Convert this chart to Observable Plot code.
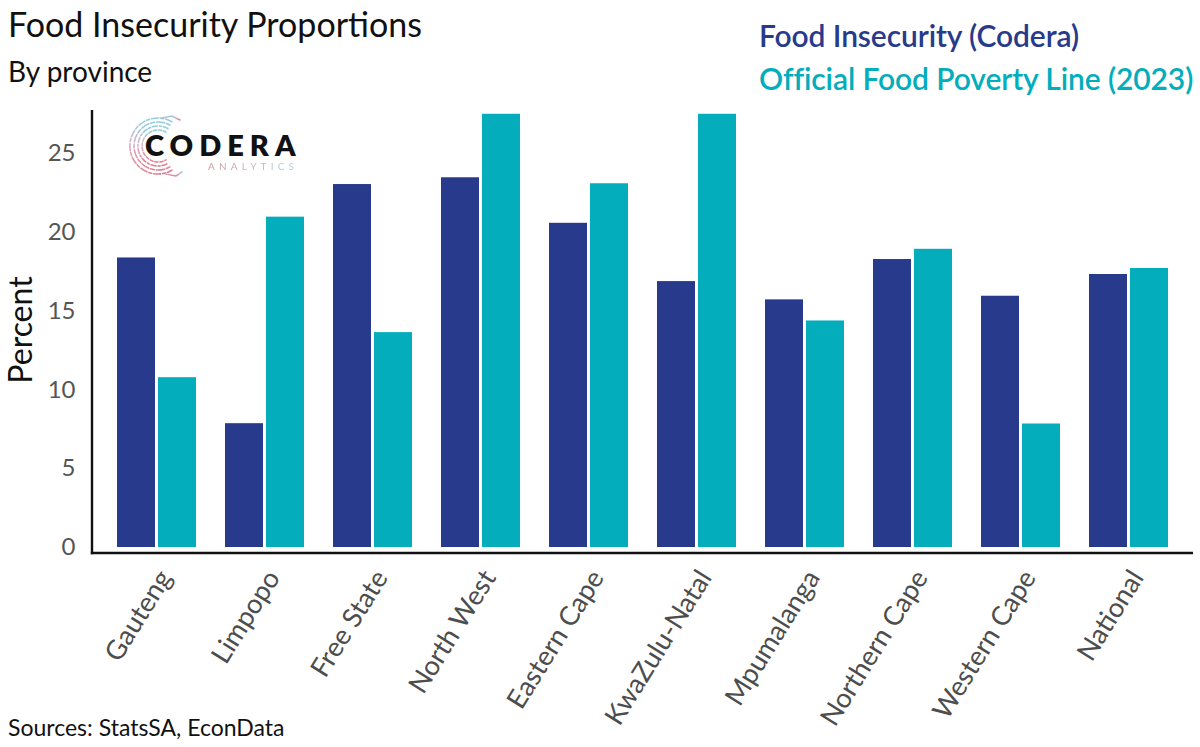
<!DOCTYPE html>
<html><head><meta charset="utf-8">
<script src="https://cdn.jsdelivr.net/npm/d3@7"></script>
<script src="https://cdn.jsdelivr.net/npm/@observablehq/plot@0.6"></script>
<style>
body{margin:0;background:#fff;font-family:Lato,sans-serif;}
#wrap{position:relative;width:1200px;height:747px;overflow:hidden;background:#fff;}
#chart{position:absolute;left:0;top:0;}
.t{position:absolute;white-space:nowrap;line-height:1.2;}
#title{left:8px;top:4px;font-size:34px;color:#111;}
#subtitle{left:8px;top:55px;font-size:28px;color:#111;}
#caption{left:8px;top:714px;font-size:23px;color:#111;}
#ylabel{left:20px;top:330px;font-size:32px;color:#111;transform:translate(-50%,-50%) rotate(-90deg);}
.leg{left:759px;font-size:30px;font-weight:600;letter-spacing:-0.1px;}
#leg1{top:17px;color:#283a8c;}
#leg2{top:60px;color:#03adbc;}
#logo{position:absolute;left:126px;top:114px;width:64px;height:64px;}
#codera{position:absolute;left:145px;top:128px;font-size:29px;font-weight:800;letter-spacing:6px;color:#111;line-height:1.2;}
#analytics{position:absolute;left:208px;top:160px;font-size:10px;letter-spacing:4.2px;line-height:1.2;background:linear-gradient(90deg,#d98f9c,#a9d6e2);-webkit-background-clip:text;background-clip:text;color:transparent;}
</style></head><body>
<div id="wrap">
<div id="chart"></div>
<svg id="logo" viewBox="0 0 64 64">
  <defs>
    <linearGradient id="lg" x1="0" y1="0" x2="0" y2="1">
      <stop offset="0" stop-color="#8fd0e0"/>
      <stop offset="0.45" stop-color="#d9b3c6"/>
      <stop offset="1" stop-color="#e07f92"/>
    </linearGradient>
  </defs>
  <g fill="none" stroke="url(#lg)" stroke-width="1.6" stroke-linecap="round">
    <path d="M 46 7.8 A 28 28 0 1 0 46 56.2" stroke-dasharray="7 2 3 2"/>
    <path d="M 44 11.2 A 24 24 0 1 0 44 52.8" stroke-dasharray="4 2 8 2"/>
    <path d="M 42 14.7 A 20 20 0 1 0 42 49.3" stroke-dasharray="5 2 2 2"/>
    <path d="M 40 18.1 A 16 16 0 1 0 40 45.9" stroke-dasharray="3 2"/>
    <path d="M 36 4 L 46 2 L 54 6" />
    <path d="M 40 60 L 50 62 L 56 58" />
  </g>
</svg>
<div id="codera">CODERA</div>
<div id="analytics">ANALYTICS</div>
<div class="t" id="title">Food Insecurity Proportions</div>
<div class="t" id="subtitle">By province</div>
<div class="t leg" id="leg1">Food Insecurity (Codera)</div>
<div class="t leg" id="leg2">Official Food Poverty Line (2023)</div>
<div class="t" id="ylabel">Percent</div>
<div class="t" id="caption">Sources: StatsSA, EconData</div>
</div>
<script>
const provinces = ["Gauteng", "Limpopo", "Free State", "North West", "Eastern Cape", "KwaZulu-Natal", "Mpumalanga", "Northern Cape", "Western Cape", "National"];
const seriesNames = ["Food Insecurity (Codera)", "Official Food Poverty Line (2023)"];
const coderaValues = [18.38, 7.86, 23.04, 23.47, 20.58, 16.88, 15.72, 18.28, 15.95, 17.33];
const officialValues = [10.78, 20.97, 13.64, 27.5, 23.09, 27.5, 14.38, 18.93, 7.84, 17.71];
const seriesColors = ["#283a8c", "#03adbc"];
const yTicks = [0, 5, 10, 15, 20, 25];
const yDomain = [-0.38, 27.74];

const data = provinces.flatMap((p, i) => [
  {province: p, series: seriesNames[0], value: coderaValues[i]},
  {province: p, series: seriesNames[1], value: officialValues[i]}
]);

const chart = Plot.plot({
  width: 1200,
  height: 747,
  marginTop: 110,
  marginBottom: 194,
  marginLeft: 92,
  marginRight: 7,
  style: {fontFamily: "Lato, sans-serif", fontSize: "24px", color: "#4d4d4d", background: "transparent", overflow: "visible"},
  fx: {domain: provinces, paddingInner: 0.2565, paddingOuter: 0.225, label: null},
  x: {domain: seriesNames, paddingInner: 0.074, paddingOuter: 0, axis: null},
  y: {domain: yDomain, label: null},
  color: {domain: seriesNames, range: seriesColors},
  marks: [
    Plot.axisY({ticks: yTicks, tickSize: 0, tickPadding: 41, fontSize: 24, fill: "#555", label: null}),
    Plot.axisFx({anchor: "bottom", tickRotate: -58, tickSize: 0, tickPadding: 14, fontSize: 27, lineAnchor: "top", fill: "#4d4d4d", label: null}),
    Plot.barY(data, {fx: "province", x: "series", y: "value", fill: "series"})
  ]
});
document.getElementById("chart").appendChild(chart);

// axis lines along the frame edges, positioned from the plot's own scales
const ys = chart.scale("y");
const fxs = chart.scale("fx");
const x0 = fxs && fxs.range ? fxs.range[0] : 92;
const x1 = fxs && fxs.range ? fxs.range[1] : 1193;
const yBottom = ys.range[0], yTop = ys.range[1];
const svg = d3.select(chart);
svg.append("line").attr("x1", x0).attr("x2", x0).attr("y1", yTop).attr("y2", yBottom + 1.2)
  .attr("stroke", "#111").attr("stroke-width", 2.4);
svg.append("line").attr("x1", x0 - 1.2).attr("x2", x1).attr("y1", yBottom).attr("y2", yBottom)
  .attr("stroke", "#111").attr("stroke-width", 2.4);
</script>
</body></html>
